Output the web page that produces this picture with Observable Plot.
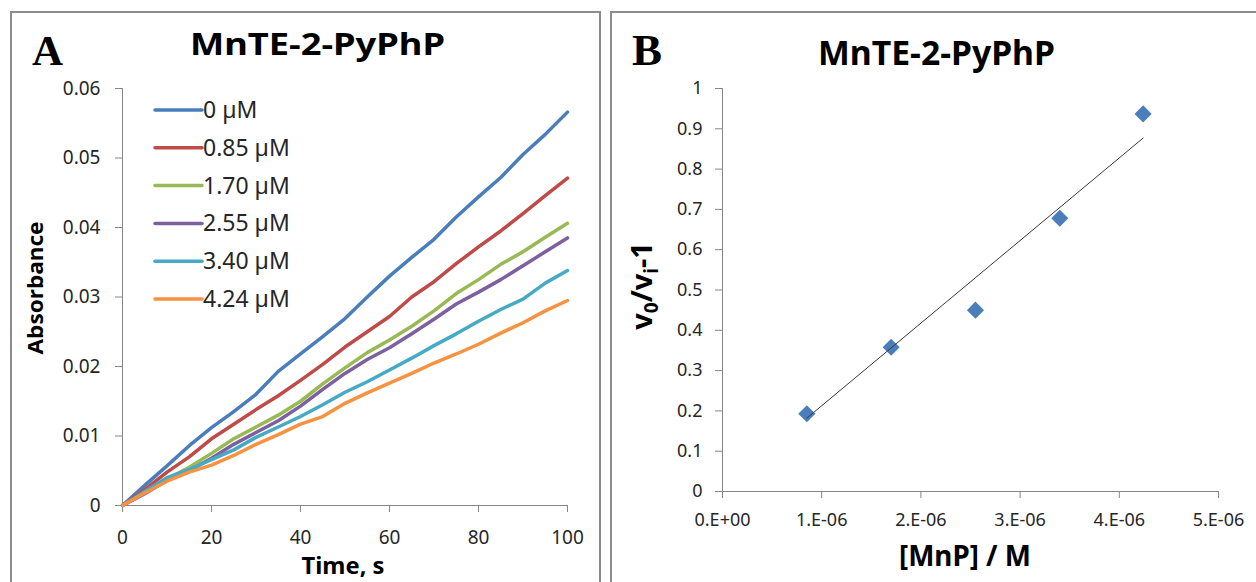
<!DOCTYPE html>
<html><head><meta charset="utf-8">
<script src="https://cdn.jsdelivr.net/npm/d3@7"></script>
<script src="https://cdn.jsdelivr.net/npm/@observablehq/plot@0.6"></script>
<style>
html,body{margin:0;padding:0;background:#fff;}
#wrap{position:relative;width:1256px;height:582px;overflow:hidden;background:#fff;font-family:"Noto Sans",sans-serif;}
.frame{position:absolute;border:2px solid #8b8b8b;box-sizing:border-box;}
#pa,#pb{position:absolute;top:0;}
#pa{left:0px;}
#pb{left:611px;}
#ov{position:absolute;left:0;top:0;pointer-events:none;}
</style></head><body>
<div id="wrap">
<div class="frame" style="left:10px;top:11px;width:591px;height:640px"></div>
<div class="frame" style="left:610px;top:11px;width:700px;height:640px"></div>
<div id="pa"></div><div id="pb"></div>
<svg id="ov" width="1256" height="582"></svg>
</div>
<script>
// ---------- Panel A data ----------
const times = [0,5,10,15,20,25,30,35,40,45,50,55,60,65,70,75,80,85,90,95,100];
const concLabels = ["0 µM","0.85 µM","1.70 µM","2.55 µM","3.40 µM","4.24 µM"];
const lineColors = ["#4A7EBB","#BE4B48","#98B954","#7D60A0","#46AAC5","#F69240"];
const abs0   = [0,0.0029,0.0057,0.0086,0.0112,0.0135,0.0160,0.0193,0.0218,0.0243,0.0269,0.0300,0.0330,0.0357,0.0383,0.0415,0.0444,0.0472,0.0505,0.0534,0.0566];
const abs085 = [0,0.0023,0.0048,0.0070,0.0096,0.0117,0.0138,0.0158,0.0180,0.0203,0.0228,0.0250,0.0272,0.0300,0.0322,0.0348,0.0372,0.0395,0.0420,0.0446,0.0471];
const abs170 = [0,0.0018,0.0038,0.0055,0.0075,0.0096,0.0113,0.0130,0.0150,0.0175,0.0198,0.0220,0.0238,0.0258,0.0280,0.0305,0.0325,0.0347,0.0365,0.0386,0.0406];
const abs255 = [0,0.0017,0.0036,0.0050,0.0068,0.0088,0.0105,0.0122,0.0143,0.0167,0.0190,0.0210,0.0227,0.0247,0.0268,0.0290,0.0307,0.0325,0.0345,0.0365,0.0385];
const abs340 = [0,0.0020,0.0040,0.0052,0.0066,0.0080,0.0098,0.0113,0.0128,0.0145,0.0163,0.0178,0.0195,0.0212,0.0230,0.0247,0.0265,0.0282,0.0297,0.0320,0.0338];
const abs424 = [0,0.0018,0.0035,0.0048,0.0058,0.0072,0.0088,0.0102,0.0117,0.0128,0.0147,0.0162,0.0176,0.0190,0.0205,0.0218,0.0232,0.0248,0.0263,0.0280,0.0295];
const xTicksA = [0,20,40,60,80,100];
const xTickLabelsA = ["0","20","40","60","80","100"];
const yTicksA = [0,0.01,0.02,0.03,0.04,0.05,0.06];
const yTickLabelsA = ["0","0.01","0.02","0.03","0.04","0.05","0.06"];

// ---------- Panel B data ----------
const concM = [0.85e-6,1.70e-6,2.55e-6,3.40e-6,4.24e-6];
const ratio = [0.193,0.358,0.450,0.678,0.937];
// linear trendline as drawn in the reference (end points)
const trendX = [0.85e-6,4.24e-6];
const trendY = [0.182,0.877];
const xTicksB = [0,1e-6,2e-6,3e-6,4e-6,5e-6];
const xTickLabelsB = ["0.E+00","1.E-06","2.E-06","3.E-06","4.E-06","5.E-06"];
const yTicksB = [0,0.1,0.2,0.3,0.4,0.5,0.6,0.7,0.8,0.9,1];
const yTickLabelsB = ["0","0.1","0.2","0.3","0.4","0.5","0.6","0.7","0.8","0.9","1"];

const titleText = "MnTE-2-PyPhP";
const axisGray = "#868686";
const textColor = "#262626";

// ---------- Panel A ----------
const seriesA = [abs0,abs085,abs170,abs255,abs340,abs424];
const rowsA = seriesA.flatMap((vals,i)=>vals.map((v,j)=>({t:times[j], a:v, s:concLabels[i]})));
const plotA = Plot.plot({
  width:600, height:582,
  marginLeft:122, marginRight:33, marginTop:88, marginBottom:77,
  x:{domain:[0,100]},
  y:{domain:[0,0.06]},
  color:{domain:concLabels, range:lineColors},
  style:{fontFamily:"Noto Sans", fontSize:"19px", color:textColor, background:"transparent", overflow:"visible"},
  marks:[
    Plot.ruleY([0],{stroke:axisGray}),
    Plot.ruleX([0],{stroke:axisGray}),
    Plot.axisX({ticks:xTicksA, tickSize:7, tickPadding:18, stroke:axisGray, fill:textColor, label:null,
      tickFormat:d=>xTickLabelsA[xTicksA.indexOf(d)]}),
    Plot.axisY({ticks:yTicksA, tickSize:7, tickPadding:15, stroke:axisGray, fill:textColor, label:null,
      tickFormat:d=>yTickLabelsA[yTicksA.indexOf(d)]}),
    Plot.lineY(rowsA,{x:"t", y:"a", z:"s", stroke:"s", strokeWidth:3.5, strokeLinejoin:"round", strokeLinecap:"round"})
  ]
});
document.getElementById("pa").appendChild(plotA);

// ---------- Panel B ----------
const rowsB = concM.map((c,i)=>({c, r:ratio[i]}));
const trendRows = trendX.map((c,i)=>({c, r:trendY[i]}));
const plotB = Plot.plot({
  width:645, height:582,
  marginLeft:111, marginRight:38, marginTop:88, marginBottom:91,
  x:{domain:[0,5e-6]},
  y:{domain:[0,1]},
  style:{fontFamily:"Noto Sans", fontSize:"18px", color:textColor, background:"transparent", overflow:"visible"},
  marks:[
    Plot.ruleY([0],{stroke:axisGray}),
    Plot.ruleX([0],{stroke:axisGray}),
    Plot.axisX({ticks:xTicksB, tickSize:7, tickPadding:15, stroke:axisGray, fill:textColor, label:null,
      tickFormat:d=>xTickLabelsB[xTicksB.indexOf(d)]}),
    Plot.axisY({ticks:yTicksB, tickSize:7, tickPadding:13, stroke:axisGray, fill:textColor, label:null,
      tickFormat:d=>yTickLabelsB[yTicksB.indexOf(d)]}),
    Plot.dot(rowsB,{x:"c", y:"r", symbol:"diamond2", r:7.7, fill:"#4A7EBB", stroke:"none"}),
    Plot.line(trendRows,{x:"c", y:"r", stroke:"#3a3a3a", strokeWidth:1})
  ]
});
document.getElementById("pb").appendChild(plotB);

// ---------- Annotations (titles, panel letters, axis labels, legend) ----------
const ov = d3.select("#ov");
function txt(x,y,s,opt){
  const t = ov.append("text").attr("x",x).attr("y",y).text(s)
    .attr("font-family",opt.family||"Noto Sans").attr("font-size",opt.size)
    .attr("font-weight",opt.weight||"normal").attr("fill",opt.fill||"#000")
    .attr("text-anchor",opt.anchor||"start");
  if (opt.len) t.attr("textLength",opt.len).attr("lengthAdjust","spacingAndGlyphs");
  if (opt.transform) t.attr("transform",opt.transform);
  return t;
}
// panel letters
txt(32,65,"A",{family:"Liberation Serif",size:43,weight:"bold"});
txt(632,65,"B",{family:"Liberation Serif",size:45,weight:"bold"});
// titles
txt(190,55,titleText,{size:30,weight:"bold",len:255});
txt(818,65,titleText,{size:34,weight:"bold",len:237});
// axis labels
txt(0,0,"Absorbance",{size:22,weight:"bold",anchor:"middle",len:133,transform:"translate(43,288) rotate(-90)"});
txt(343,574,"Time, s",{size:23,weight:"bold",anchor:"middle",len:83});
txt(965,566,"[MnP] / M",{size:28,weight:"bold",anchor:"middle",len:132});
{
  const t = ov.append("text").attr("transform","translate(652,286) rotate(-90)")
    .attr("font-family","Noto Sans").attr("font-size",29).attr("font-weight","bold")
    .attr("text-anchor","middle").attr("fill","#000");
  t.append("tspan").text("v");
  t.append("tspan").attr("font-size",19).attr("dy",6).text("0");
  t.append("tspan").attr("dy",-6).text("/v");
  t.append("tspan").attr("font-size",19).attr("dy",6).text("i");
  t.append("tspan").attr("dy",-6).text("-1");
}
// legend
concLabels.forEach((lab,i)=>{
  const y = 110 + i*37.8;
  ov.append("line").attr("x1",155).attr("x2",202).attr("y1",y).attr("y2",y)
    .attr("stroke",lineColors[i]).attr("stroke-width",3.5).attr("stroke-linecap","round");
  txt(203,y+8,lab,{size:23,fill:textColor});
});
</script>
</body></html>
